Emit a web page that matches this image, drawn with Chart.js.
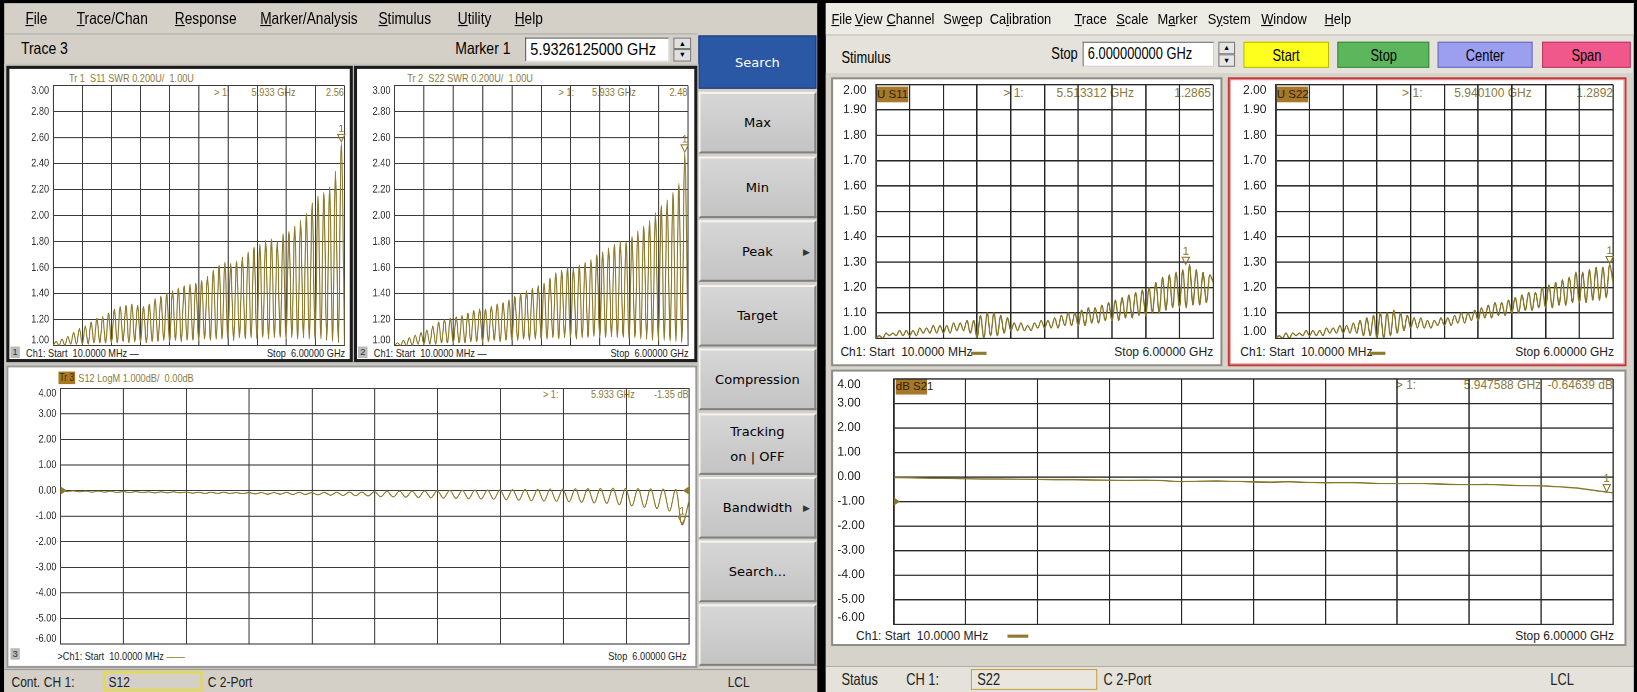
<!DOCTYPE html>
<html><head><meta charset="utf-8">
<script src="https://cdn.jsdelivr.net/npm/chart.js@4.4.1/dist/chart.umd.min.js"></script>
<style>
html,body{margin:0;padding:0;background:#000;width:1637px;height:692px;overflow:hidden}
#stage{position:absolute;left:0;top:0;width:1568px;height:663px;transform:scale(1.04401,1.04374);transform-origin:0 0;font-family:'Liberation Sans',Arial,sans-serif;color:#000}
.a{position:absolute;white-space:nowrap;box-sizing:border-box}
.btn{display:flex;align-items:center;justify-content:center;text-align:center;font-family:'DejaVu Sans',sans-serif;font-size:12.5px;background:linear-gradient(#d6d6d6,#c4c4c4);border-top:2px solid #f4f4f4;border-left:2px solid #f4f4f4;border-right:2px solid #808080;border-bottom:2px solid #808080;line-height:24px}
.sb{display:flex;align-items:center;justify-content:center}
.n{display:inline-block}
</style></head><body><div id="stage"></div>
<script>
// ---------------- DATA ----------------
const F0 = 0.01, F1 = 6.0;                 // sweep start / stop, GHz
const swrTicksLeft  = ['3.00','2.80','2.60','2.40','2.20','2.00','1.80','1.60','1.40','1.20','1.00'];
const swrTicksRight = ['2.00','1.90','1.80','1.70','1.60','1.50','1.40','1.30','1.20','1.10','1.00'];
const dbTicks       = ['4.00','3.00','2.00','1.00','0.00','-1.00','-2.00','-3.00','-4.00','-5.00','-6.00'];

// left analyser, S11 SWR ripple: maxima and minima of each ripple cycle
const lS11Peaks = [1.03,1.05,1.07,1.10,1.13, 1.15,1.18,1.21,1.22,1.25, 1.28,1.30,1.31,1.32,1.31, 1.30,1.32,1.36,1.38,1.40,
                   1.42,1.44,1.46,1.47,1.48, 1.50,1.53,1.58,1.62,1.64, 1.63,1.65,1.68,1.72,1.76, 1.78,1.81,1.82,1.80,1.86,
                   1.88,1.92,1.96,2.02,2.10, 2.15,2.18,2.22,2.34,2.56];
const lS11Dips  = [1.00,1.00,1.00,1.01,1.01, 1.01,1.01,1.02,1.02,1.02, 1.02,1.02,1.03,1.02,1.03, 1.03,1.02,1.03,1.03,1.04,
                   1.03,1.04,1.03,1.04,1.04, 1.04,1.05,1.04,1.05,1.05, 1.05,1.04,1.06,1.05,1.06, 1.05,1.06,1.05,1.06,1.06,
                   1.05,1.06,1.05,1.06,1.05, 1.04,1.05,1.04,1.03,1.02];
const lS11End = 1.00;
// left analyser, S22 SWR ripple
const lS22Peaks = [1.02,1.04,1.06,1.08,1.10, 1.12,1.15,1.18,1.20,1.21, 1.22,1.23,1.25,1.27,1.28, 1.28,1.30,1.32,1.33,1.35,
                   1.38,1.40,1.42,1.44,1.46, 1.48,1.52,1.56,1.58,1.60, 1.60,1.62,1.64,1.66,1.70, 1.72,1.75,1.78,1.80,1.80,
                   1.84,1.88,1.92,1.96,2.02, 2.08,2.12,2.18,2.25,2.48];
const lS22Dips  = [1.00,1.00,1.00,1.00,1.01, 1.01,1.01,1.01,1.02,1.02, 1.02,1.02,1.02,1.03,1.03, 1.03,1.03,1.04,1.03,1.04,
                   1.04,1.04,1.05,1.04,1.05, 1.05,1.05,1.06,1.05,1.06, 1.06,1.05,1.06,1.06,1.07, 1.06,1.06,1.07,1.06,1.06,
                   1.05,1.06,1.05,1.05,1.04, 1.04,1.04,1.03,1.03,1.02];
const lS22End = 1.00;
// left analyser, S12 LogM (dB): upper and lower turning points of each ripple
const lS12Hi = [0.00,-0.01,-0.02,-0.02,-0.03, -0.04,-0.04,-0.05,-0.05,-0.05, -0.06,-0.07,-0.07,-0.07,-0.08, -0.08,-0.08,-0.08,-0.07,-0.07,
                -0.08,-0.07,-0.07,-0.06,-0.06, -0.04,-0.03,-0.02,-0.02,-0.01, 0.00,0.01,0.01,0.02,0.02, 0.03,0.04,0.05,0.05,0.06,
                0.06,0.07,0.08,0.08,0.09, 0.08,0.08,0.07,0.06,0.05];
const lS12Lo = [-0.04,-0.05,-0.06,-0.06,-0.07, -0.08,-0.08,-0.09,-0.09,-0.09, -0.10,-0.11,-0.11,-0.11,-0.12, -0.13,-0.14,-0.14,-0.15,-0.15,
                -0.17,-0.18,-0.19,-0.20,-0.21, -0.24,-0.25,-0.26,-0.27,-0.28, -0.30,-0.31,-0.32,-0.33,-0.34, -0.36,-0.38,-0.40,-0.41,-0.42,
                -0.44,-0.46,-0.48,-0.50,-0.55, -0.60,-0.65,-0.70,-0.80,-1.35];
const lS12End = -0.40;
// right analyser, S11 SWR
const rS11Peaks = [1.01,1.02,1.02,1.03,1.03, 1.03,1.04,1.04,1.05,1.05, 1.05,1.06,1.06,1.07,1.07, 1.09,1.10,1.10,1.09,1.08,
                   1.06,1.06,1.05,1.06,1.07, 1.07,1.08,1.09,1.10,1.10, 1.11,1.12,1.12,1.13,1.14, 1.15,1.16,1.17,1.18,1.19,
                   1.20,1.22,1.24,1.25,1.26, 1.27,1.29,1.27,1.26,1.25];
const rS11Dips  = [1.00,1.00,1.01,1.01,1.01, 1.01,1.01,1.02,1.02,1.02, 1.02,1.02,1.03,1.03,1.02, 1.00,1.00,1.01,1.01,1.02,
                   1.03,1.03,1.03,1.03,1.04, 1.04,1.04,1.04,1.05,1.05, 1.05,1.05,1.06,1.06,1.07, 1.07,1.07,1.08,1.08,1.09,
                   1.09,1.10,1.10,1.11,1.12, 1.12,1.12,1.13,1.13,1.14];
const rS11End = 1.22;
// right analyser, S22 SWR
const rS22Peaks = [1.01,1.02,1.02,1.02,1.03, 1.03,1.03,1.04,1.04,1.05, 1.05,1.06,1.07,1.08,1.09, 1.10,1.10,1.11,1.10,1.09,
                   1.08,1.08,1.07,1.07,1.08, 1.08,1.09,1.10,1.10,1.11, 1.12,1.13,1.14,1.14,1.15, 1.16,1.17,1.18,1.18,1.20,
                   1.21,1.22,1.23,1.24,1.26, 1.26,1.27,1.28,1.28,1.29];
const rS22Dips  = [1.00,1.00,1.00,1.01,1.01, 1.01,1.01,1.01,1.02,1.02, 1.02,1.02,1.02,1.01,1.01, 1.00,1.00,1.01,1.02,1.03,
                   1.04,1.04,1.04,1.04,1.05, 1.05,1.05,1.06,1.06,1.07, 1.07,1.08,1.08,1.09,1.09, 1.10,1.10,1.11,1.11,1.12,
                   1.12,1.12,1.13,1.13,1.14, 1.14,1.14,1.15,1.15,1.16];
const rS22End = 1.22;
// right analyser, S21 (dB), sampled every 0.14975 GHz
const rS21 = [-0.02,-0.03,-0.05,-0.06,-0.07,-0.08,-0.08,-0.09,-0.10,-0.11, -0.11,-0.12,-0.13,-0.14,-0.13,-0.15,-0.19,-0.17,-0.16,-0.18,
              -0.20,-0.21,-0.19,-0.22,-0.24,-0.23,-0.24,-0.26,-0.27,-0.26, -0.28,-0.30,-0.31,-0.30,-0.33,-0.35,-0.36,-0.40,-0.45,-0.55,-0.65];
// markers (GHz, value)
const mkLS11 = [5.933, 2.56], mkLS22 = [5.933, 2.48], mkLS12 = [5.933, -1.35];
const mkRS11 = [5.513312, 1.2865], mkRS22 = [5.9401, 1.2892], mkRS21 = [5.947588, -0.64639];

// ---------------- helpers ----------------
const stage = document.getElementById('stage');
function B(x,y,w,h,css,html){const d=document.createElement('div');d.className='a';d.style.cssText=`left:${x}px;top:${y}px;width:${w}px;height:${h}px;`+(css||'');if(html!==undefined)d.innerHTML=html;stage.appendChild(d);return d;}
function wrap(s,k,org){return k&&k!==1?`<span class="n" style="transform:scaleX(${k});transform-origin:${org} 50%">${s}</span>`:s;}
function T(x,y,s,css,k){const d=document.createElement('div');d.className='a';d.style.cssText=`left:${x}px;top:${y}px;`+(css||'');d.innerHTML=wrap(s,k,'0');stage.appendChild(d);return d;}
function TC(cx,y,s,css,k){const d=document.createElement('div');d.className='a';d.style.cssText=`left:${cx-100}px;top:${y}px;width:200px;text-align:center;`+(css||'');d.innerHTML=wrap(s,k,'50%');stage.appendChild(d);return d;}
function TR(rx,y,s,css,k){const d=document.createElement('div');d.className='a';d.style.cssText=`left:${rx-300}px;top:${y}px;width:300px;text-align:right;`+(css||'');d.innerHTML=wrap(s,k,'100%');stage.appendChild(d);return d;}

// sweep grid: each ripple cycle spans equal frequency; values come from the arrays above
function ripple(atHalf, atWhole, lastF, endVal){
  const n = atHalf.length, d = (lastF - F0)/(n - 0.5), pts=[];
  for(let i=0;i<n;i++){pts.push({x:F0+i*d,y:atWhole[i]});pts.push({x:F0+(i+0.5)*d,y:atHalf[i]});}
  pts.push({x:F1,y:endVal});return pts;
}
function sampled(vals){const d=(F1-F0)/(vals.length-1);return vals.map((v,i)=>({x:F0+i*d,y:v}));}

function makePlugin(o){
  return {id:'vna'+Math.random().toString(36).slice(2),
    afterDatasetsDraw(chart){
      const {ctx,chartArea:a,scales:{x,y}}=chart;
      ctx.save();
      ctx.font=o.labelFont;ctx.fillStyle=o.labelColor;ctx.textBaseline='middle';ctx.textAlign=o.labelAlign;
      const lx = o.labelAlign==='left'? 2 : a.left-o.labelGap;
      o.ticks.forEach((t,i)=>{let py=y.getPixelForValue(parseFloat(t));
        if(i===0)py+=o.edgeShift;else if(i===o.ticks.length-1)py-=o.edgeShift;
        ctx.save();ctx.translate(lx,py);ctx.scale(o.labelK,1);ctx.fillText(t,0,0);ctx.restore();});
      ctx.strokeStyle=o.color;ctx.fillStyle=o.color;ctx.lineWidth=1;
      (o.markers||[]).forEach(m=>{const px=x.getPixelForValue(m[0]),py=y.getPixelForValue(m[1]);
        ctx.beginPath();ctx.moveTo(px-3.5,py-8);ctx.lineTo(px+3.5,py-8);ctx.lineTo(px,py-1);ctx.closePath();ctx.stroke();
        ctx.font=o.mkFont;ctx.textAlign='center';ctx.textBaseline='bottom';ctx.fillText('1',px,py-8);});
      (o.refs||[]).forEach(r=>{const py=y.getPixelForValue(r[1]);const px=r[0]==='L'?a.left:a.right;const s=r[0]==='L'?1:-1;
        ctx.beginPath();ctx.moveTo(px,py-4);ctx.lineTo(px+s*6,py);ctx.lineTo(px,py+4);ctx.closePath();ctx.fill();});
      ctx.restore();
    }};
}
function vnaChart(o){
  const padT=3,padB=3,padR=2,g=o.grid;
  const left=g.l-o.labelW, top=g.t-padT, w=g.r-g.l+o.labelW+padR, h=g.b-g.t+padT+padB;
  const d=B(left,top,w,h,'');const cv=document.createElement('canvas');d.appendChild(cv);
  const gridOpt={color:o.gridColor,lineWidth:o.gridW,drawTicks:false};
  new Chart(cv,{type:'line',
    data:{datasets:o.series.map(s=>({data:s,borderColor:o.color,borderWidth:o.lw,pointRadius:0,cubicInterpolationMode:o.smooth?'monotone':'default',tension:0,fill:false}))},
    options:{responsive:true,maintainAspectRatio:false,animation:false,devicePixelRatio:2,events:[],
      layout:{padding:{left:0,right:padR,top:padT,bottom:padB}},
      plugins:{legend:{display:false},tooltip:{enabled:false}},
      scales:{
        x:{type:'linear',min:F0,max:F1,ticks:{display:false},grid:gridOpt,border:{color:o.gridColor,width:o.gridW},
           afterBuildTicks:s=>{s.ticks=Array.from({length:11},(_,i)=>({value:F0+i*(F1-F0)/10}));},afterFit:s=>{s.height=0;}},
        y:{type:'linear',min:o.yMin,max:o.yMax,ticks:{display:false},grid:gridOpt,border:{color:o.gridColor,width:o.gridW},
           afterBuildTicks:s=>{s.ticks=o.ticks.map(t=>({value:parseFloat(t)}));},afterFit:s=>{s.width=o.labelW;}}
      }},
    plugins:[makePlugin(o)]});
}

// ---------------- LEFT WINDOW ----------------
B(0,0,1568,3,'background:#000');
B(4,3,779,660,'background:#d4d0c8');
const lm=[['<u>F</u>ile',35],['<u>T</u>race/Chan',108],['<u>R</u>esponse',197],['<u>M</u>arker/Analysis',296],['<u>S</u>timulus',388],['<u>U</u>tility',455],['<u>H</u>elp',506]];
lm.forEach(m=>TC(m[1],9,m[0],'font-size:16px;line-height:18px',0.82));
B(4,32,664,1,'background:#aaa');
T(20,38,'Trace 3','font-size:16px;line-height:18px',0.84);
T(436,38,'Marker 1','font-size:16px;line-height:18px',0.84);
B(503,36,138,23,'background:#fff;border:1px solid #555;border-right-color:#ddd;border-bottom-color:#ddd');
T(508,38,'5.9326125000 GHz','font-size:16.5px;line-height:18px',0.84);
B(645,36,17,11,'background:#e0e0e0;border:1px solid #777;font-size:7px;line-height:9px;text-align:center','▲');
B(645,47,17,12,'background:#e0e0e0;border:1px solid #777;font-size:7px;line-height:10px;text-align:center','▼');
// softkeys
B(669,34,113,51,'background:#2b58a4;color:#fff;display:flex;align-items:center;justify-content:center;font-family:"DejaVu Sans",sans-serif;font-size:12.5px;border:1px solid #1a3c78','Search');
const keys=[['Max',88],['Min',150],['Peak',211,1],['Target',273],['Compression',334],['Tracking<br>on | OFF',396],['Bandwidth',457,1],['Search...',518],['',579]];
keys.forEach(k=>{const b=B(669,k[1],113,59,'',k[0]);b.className='a btn';if(k[2])B(769,k[1]+24,8,12,'font-size:9px;color:#333;line-height:12px','▶');});
// left status bar
const stl='font-size:14px;line-height:16px;color:#222';
B(4,641,779,22,'background:#d4d0c8;border-top:1px solid #999');
T(11,645,'Cont.',stl,0.82);
T(42,645,'CH 1:',stl,0.82);
B(99,643,95,19,'border:2px solid #e6dc3c');
T(104,645,'S12',stl,0.82);
T(199,645,'C 2-Port',stl,0.82);
T(697,645,'LCL',stl,0.82);

// left chart panels
B(4,61,665,580,'background:#c8c4bc');
B(6,63,332,284,'background:#fff;border:3px solid #1c1c1c');
B(339,63,329,284,'background:#fff;border:3px solid #1c1c1c');
B(6,350,662,290,'background:#fff;border:2px solid #9a9a9a');
const olive='#8e7b2c', oliveTxt='#8a7a3c';
const lsty=`font-size:11px;line-height:12px;color:${oliveTxt}`;
const lft='font-size:11px;line-height:12px;color:#222';
const K=0.8;
// headers / readouts / footers
T(66,69,'Tr 1&nbsp; S11 SWR 0.200U/&nbsp; 1.00U',lsty,K);
T(205,82,'&gt; 1:',lsty,K);T(241,82,'5.933 GHz',lsty,K);TR(329,82,'2.56',lsty,K);
B(10,332,9,11,'background:#bbb;font-size:9px;line-height:11px;text-align:center;color:#333','1');
T(25,332,'Ch1: Start&nbsp; 10.0000 MHz —',lft,K);
TR(331,332,'Stop&nbsp; 6.00000 GHz',lft,K);
T(390,69,'Tr 2&nbsp; S22 SWR 0.200U/&nbsp; 1.00U',lsty,K);
T(535,82,'&gt; 1:',lsty,K);T(567,82,'5.933 GHz',lsty,K);TR(658,82,'2.48',lsty,K);
B(343,332,9,11,'background:#bbb;font-size:9px;line-height:11px;text-align:center;color:#333','2');
T(358,332,'Ch1: Start&nbsp; 10.0000 MHz —',lft,K);
TR(660,332,'Stop&nbsp; 6.00000 GHz',lft,K);
B(56,356,16,12,'background:#a77a22;');
T(57,356,'Tr 3','font-size:10px;line-height:12px;color:#3a2800',K);
T(75,356,'S12 LogM 1.000dB/&nbsp; 0.00dB',lsty,K);
T(520,371,'&gt; 1:',lsty,K);T(566,371,'5.933 GHz',lsty,K);TR(660,371,'-1.35 dB',lsty,K);
B(10,621,9,11,'background:#bbb;font-size:9px;line-height:11px;text-align:center;color:#333','3');
T(55,622,'&gt;Ch1: Start&nbsp; 10.0000 MHz <span style="color:'+olive+'">——</span>',lft,K);
TR(658,622,'Stop&nbsp; 6.00000 GHz',lft,K);

const leftCommon={labelFont:"11px 'Liberation Sans',sans-serif",labelK:0.8,labelColor:'#333',labelAlign:'right',labelGap:4,edgeShift:5,gridColor:'#3c3c3c',gridW:1,color:olive,lw:1.1,smooth:true,mkFont:"10px 'Liberation Sans',sans-serif"};
vnaChart(Object.assign({},leftCommon,{grid:{l:51,r:330,t:82,b:331},labelW:44,yMin:1,yMax:3,ticks:swrTicksLeft,
  series:[ripple(lS11Peaks,lS11Dips,mkLS11[0],lS11End)],markers:[mkLS11]}));
vnaChart(Object.assign({},leftCommon,{grid:{l:378,r:659,t:82,b:331},labelW:36,yMin:1,yMax:3,ticks:swrTicksLeft,
  series:[ripple(lS22Peaks,lS22Dips,mkLS22[0],lS22End)],markers:[mkLS22]}));
vnaChart(Object.assign({},leftCommon,{grid:{l:58,r:660,t:372,b:617},labelW:50,yMin:-6,yMax:4,ticks:dbTicks,
  series:[ripple(lS12Lo,lS12Hi,mkLS12[0],lS12End)],markers:[mkLS12],refs:[['L',0],['R',0]]}));

// ---------------- DIVIDER ----------------
B(783,0,8,663,'background:#000');

// ---------------- RIGHT WINDOW ----------------
B(791,3,774,660,'background:#e4e2da');
B(791,3,774,30,'background:#ecebe4');
const rm=[['<u>F</u>ile',806],['<u>V</u>iew',832],['<u>C</u>hannel',872],['Sw<u>e</u>ep',922],['Ca<u>l</u>ibration',977],['<u>T</u>race',1045],['<u>S</u>cale',1085],['M<u>a</u>rker',1128],['S<u>y</u>stem',1177],['<u>W</u>indow',1230],['<u>H</u>elp',1281]];
rm.forEach(m=>TC(m[1],11,m[0],'font-size:14px;line-height:15px',0.88));
B(791,33,774,1,'background:#c0bdb2');
const srow='font-size:15px;line-height:16px';
T(806,47,'Stimulus',srow,0.82);
T(1007,44,'Stop',srow,0.82);
B(1037,40,126,24,'background:#fff;border:1px solid #666;border-right-color:#ccc;border-bottom-color:#ccc');
T(1042,44,'6.000000000 GHz',srow,0.82);
B(1167,40,16,12,'background:#e6e6e6;border:1px solid #777;font-size:7px;line-height:10px;text-align:center','▲');
B(1167,52,16,12,'background:#e6e6e6;border:1px solid #777;font-size:7px;line-height:10px;text-align:center','▼');
[['Start',1191,82,'#ffff1e','#b8b800'],['Stop',1281,88,'#5cb65c','#3a8a3a'],['Center',1377,91,'#9c9ef0','#6a6cc0'],['Span',1477,85,'#f0578a','#b83a62']]
 .forEach(b=>{const d=B(b[1],40,b[2],25,`background:${b[3]};border:1px solid ${b[4]};font-size:15px;line-height:16px`,wrap(b[0],0.82,'50%'));d.className='a sb';});
// chart area
B(791,70,774,568,'background:#d6d3ca');
B(796,74,375,277,'background:#fff;border:2px solid #8e8c86');
B(1176,74,382,277,'background:#fff;border:2px solid #c03838;box-shadow:inset 0 0 0 1px #e8a0a0');
B(796,354,762,265,'background:#fff;border:2px solid #8e8c86');
const rsty='font-size:11.5px;line-height:13px;color:#8a7a3c';
const rfoot='font-size:11.5px;line-height:13px;color:#222';
const hbox='background:#a6782a;color:#332200;font-size:11px;line-height:15px;text-align:center';
B(840,83,30,15,hbox,'U S11');
T(961,83,'&gt; 1:',rsty);T(1012,83,'5.513312 GHz',rsty);TR(1160,83,'1.2865',rsty);
T(805,331,'Ch1: Start&nbsp; 10.0000 MHz',rfoot);B(930,337,15,3,'background:'+olive);TR(1162,331,'Stop 6.00000 GHz',rfoot);
B(1223,83,30,15,hbox,'U S22');
T(1343,83,'&gt; 1:',rsty);T(1393,83,'5.940100 GHz',rsty);TR(1545,83,'1.2892',rsty);
T(1188,331,'Ch1: Start&nbsp; 10.0000 MHz',rfoot);B(1312,337,15,3,'background:'+olive);TR(1546,331,'Stop 6.00000 GHz',rfoot);
B(858,363,30,15,hbox,'dB S21');
T(1337,363,'&gt; 1:',rsty);T(1402,363,'5.947588 GHz',rsty);TR(1545,363,'-0.64639 dB',rsty);
T(820,603,'Ch1: Start&nbsp; 10.0000 MHz',rfoot);B(965,608,20,3,'background:'+olive);TR(1546,603,'Stop 6.00000 GHz',rfoot);
// right status bar
const str='font-size:15px;line-height:16px;color:#222';
B(791,638,774,25,'background:#e4e2da;border-top:1px solid #aaa');
T(806,643,'Status',str,0.82);
T(868,643,'CH 1:',str,0.82);
B(930,641,121,20,'border:1px solid #c8a040;background:#e8e6de');
T(936,643,'S22',str,0.82);
T(1057,643,'C 2-Port',str,0.82);
T(1485,643,'LCL',str,0.82);
B(1565,0,3,663,'background:#000');

const rightCommon={labelFont:"11.5px 'Liberation Sans',sans-serif",labelK:1,labelColor:'#222',labelAlign:'right',labelGap:9,edgeShift:6,gridColor:'#262626',gridW:1.3,color:'#86762a',lw:1.3,smooth:true,mkFont:"11px 'Liberation Sans',sans-serif"};
vnaChart(Object.assign({},rightCommon,{grid:{l:839,r:1162,t:81,b:324},labelW:40,yMin:1,yMax:2,ticks:swrTicksRight,
  series:[ripple(rS11Peaks,rS11Dips,5.94,rS11End)],markers:[mkRS11]}));
vnaChart(Object.assign({},rightCommon,{grid:{l:1222,r:1545,t:81,b:324},labelW:40,yMin:1,yMax:2,ticks:swrTicksRight,
  series:[ripple(rS22Peaks,rS22Dips,5.94,rS22End)],markers:[mkRS22]}));
vnaChart(Object.assign({},rightCommon,{grid:{l:856,r:1545,t:363,b:598},labelW:56,labelAlign:'left',yMin:-6,yMax:4,ticks:dbTicks,smooth:false,
  series:[sampled(rS21)],markers:[mkRS21],refs:[['L',-1]]}));
</script></body></html>
